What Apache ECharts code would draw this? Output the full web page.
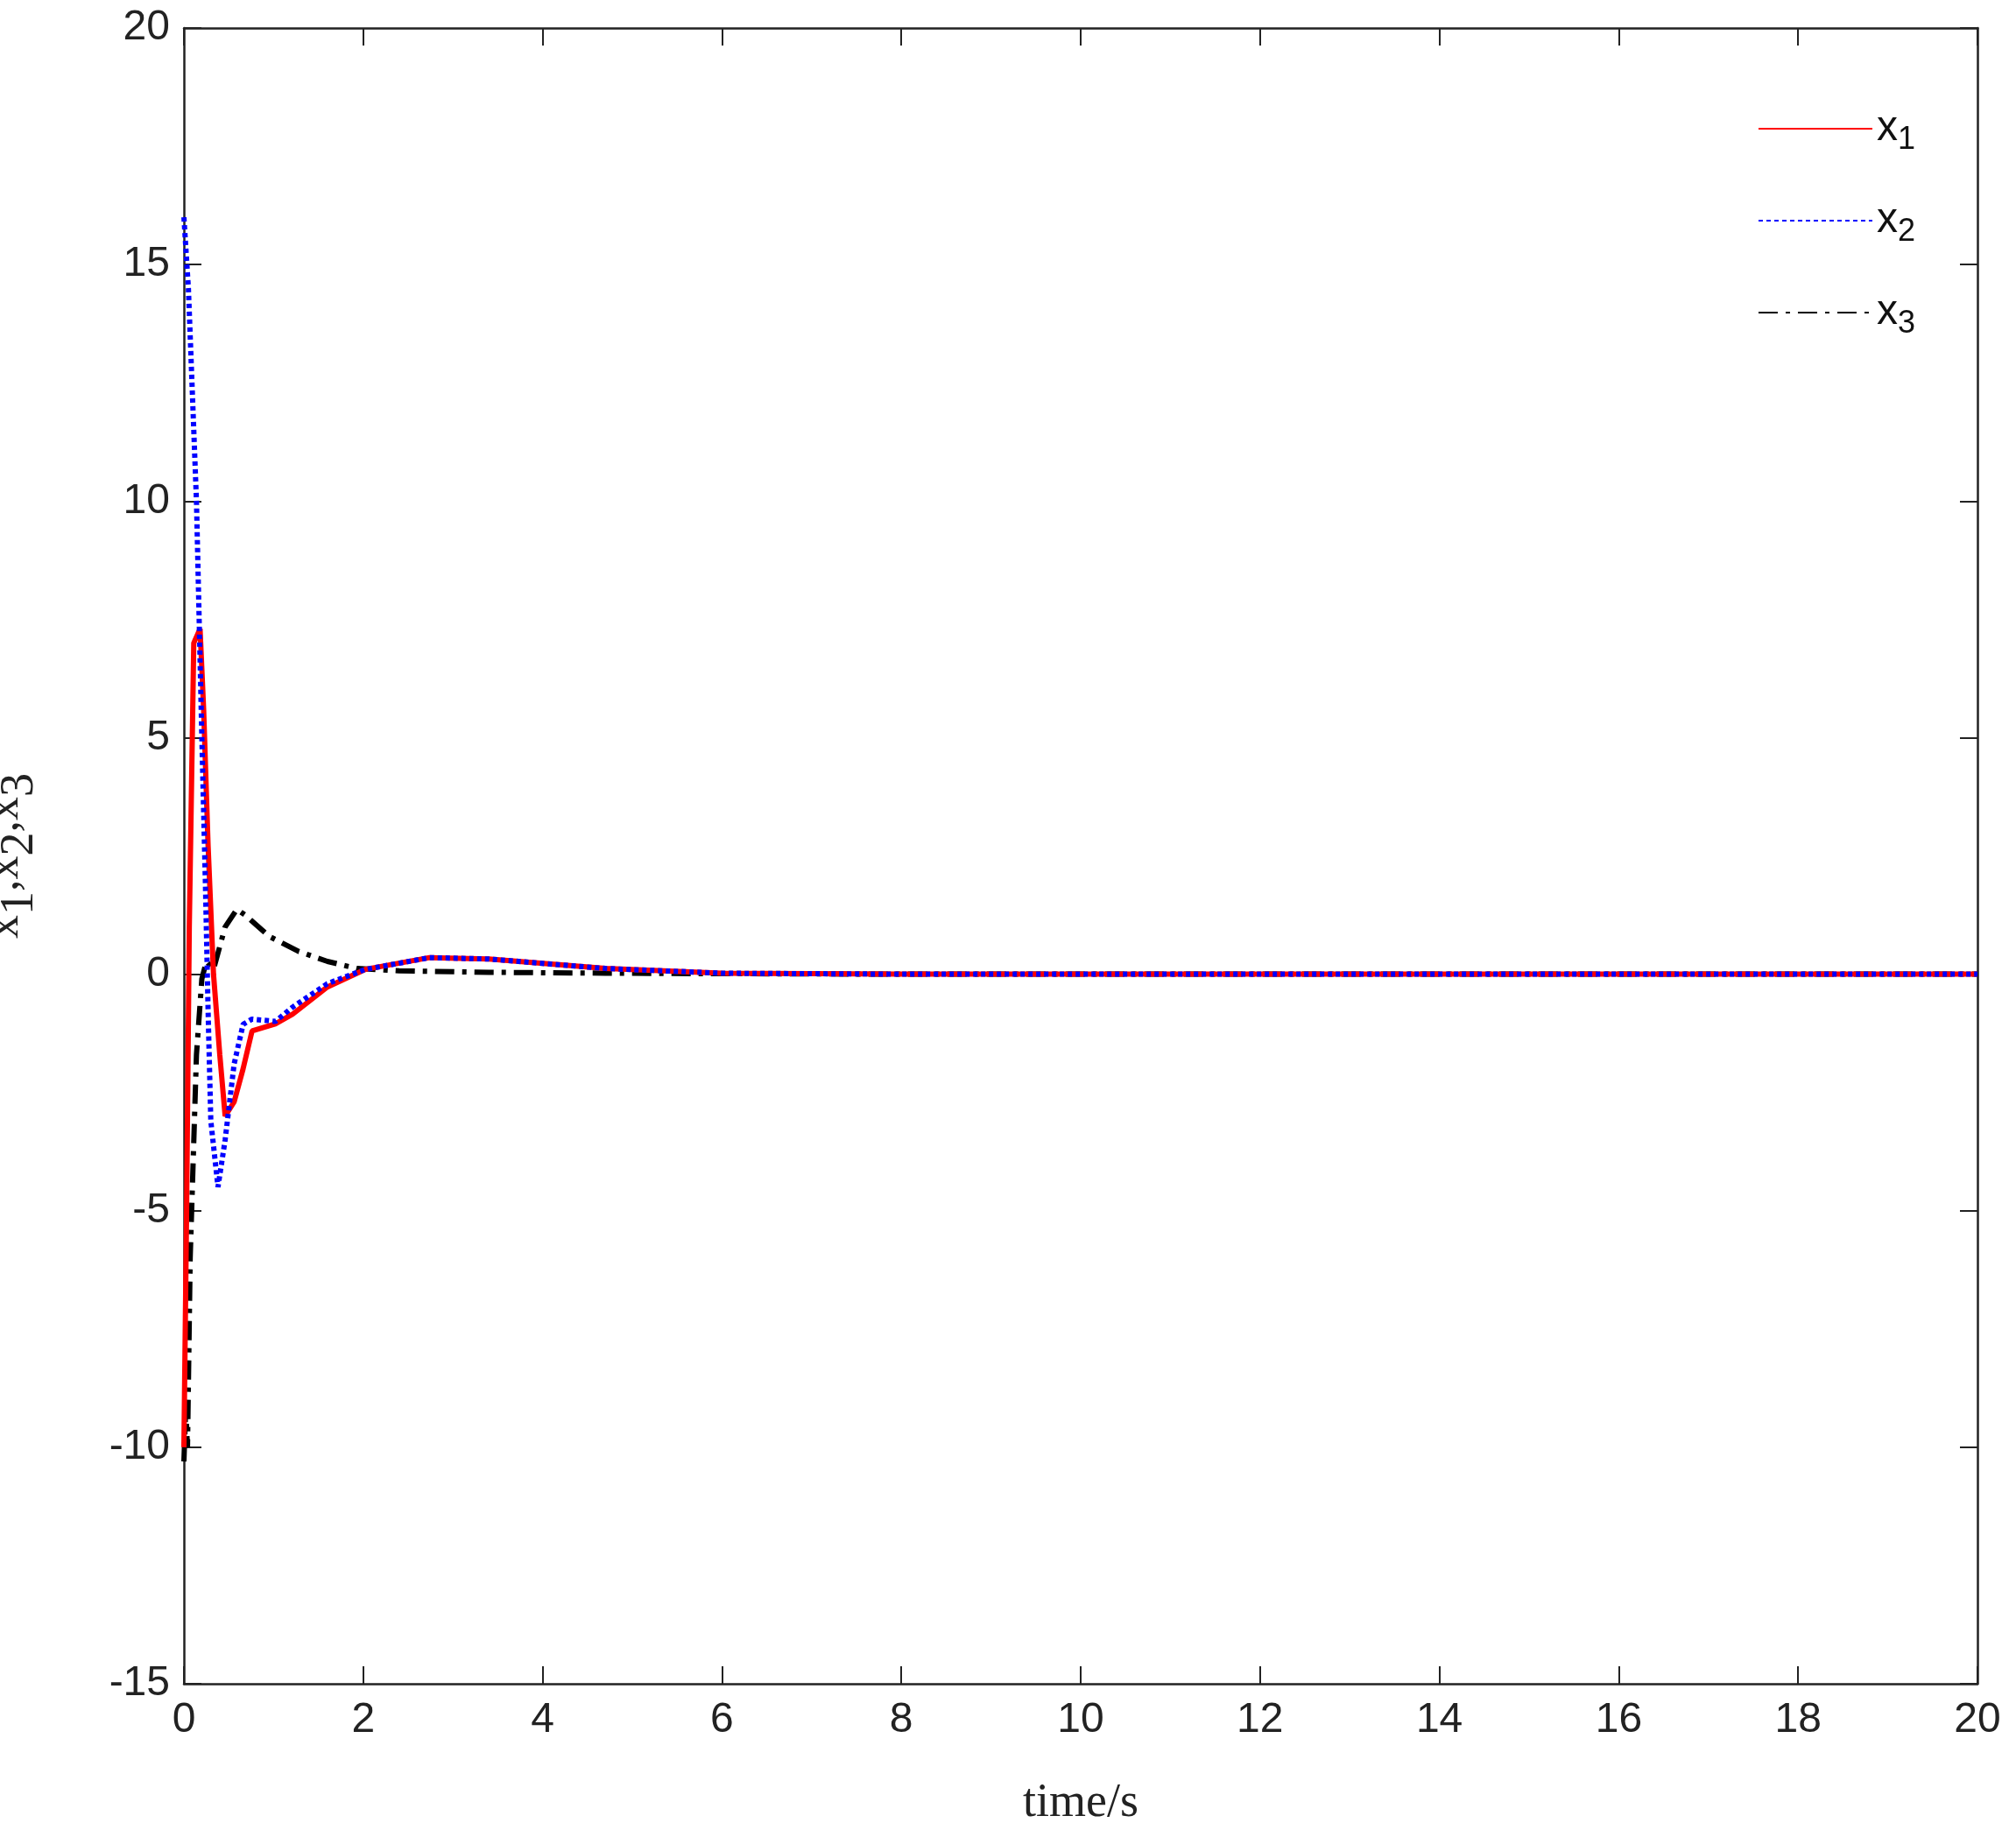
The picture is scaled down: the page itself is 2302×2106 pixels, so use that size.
<!DOCTYPE html>
<html><head><meta charset="utf-8">
<script src="https://cdn.jsdelivr.net/npm/echarts@6/dist/echarts.min.js"></script>
<style>html,body{margin:0;background:#fff}#c{width:2302px;height:2106px}</style>
</head><body><div id="c"></div>
<script>
var xTicks = [0, 2, 4, 6, 8, 10, 12, 14, 16, 18, 20];
var yTicks = [-15, -10, -5, 0, 5, 10, 15, 20];

var t1 = [0, 0.03, 0.06, 0.11, 0.18, 0.22, 0.27, 0.33, 0.4, 0.46, 0.56, 0.66, 0.76, 1.02, 1.21, 1.6, 2.02, 2.74, 3.4, 4.7, 6, 8, 20];
var x1 = [-10, -5, 1, 7, 7.3, 5.6, 2.7, 0, -1.7, -3, -2.7, -2, -1.2, -1.05, -0.85, -0.27, 0.1, 0.35, 0.32, 0.12, 0.02, 0, 0];

var t2 = [0, 0.05, 0.14, 0.2, 0.24, 0.27, 0.3, 0.38, 0.46, 0.56, 0.66, 0.76, 1.02, 1.21, 1.6, 2.02, 2.74, 3.4, 4.7, 6, 8, 20];
var x2 = [16, 14.5, 10, 5, 1.9, -0.8, -3.1, -4.5, -3.5, -1.9, -1.06, -0.95, -1.0, -0.7, -0.2, 0.1, 0.35, 0.32, 0.12, 0.02, 0, 0];

var t3 = [0, 0.02, 0.04, 0.07, 0.14, 0.2, 0.25, 0.33, 0.46, 0.59, 0.69, 0.95, 1.28, 1.6, 1.93, 2.4, 3.4, 4.7, 6, 8, 20];
var x3 = [-10.3, -9.2, -10, -6, -1.7, -0.1, 0.27, 0.1, 1.0, 1.37, 1.24, 0.8, 0.48, 0.27, 0.12, 0.07, 0.04, 0.02, 0.01, 0, 0];

function pairs(t, v) { return t.map(function (d, i) { return [d, v[i]]; }); }

var chart = echarts.init(document.getElementById('c'));
var tickFont = { fontFamily: 'Arial, Liberation Sans', fontSize: 48, color: '#222' };
var axisLineStyle = { onZero: false, lineStyle: { color: '#222', width: 2.5 } };
var subRich = {
  n: { fontFamily: 'Arial, Liberation Sans', fontSize: 48, color: '#111' },
  s: { fontFamily: 'Arial, Liberation Sans', fontSize: 36, color: '#111', padding: [26, 0, 0, 0] }
};
function xAx(pos, show) {
  return {
    type: 'value', position: pos, min: 0, max: 20, interval: 2,
    axisLine: axisLineStyle, axisTick: { inside: true, length: 20, lineStyle: { color: '#222', width: 2 } },
    axisLabel: Object.assign({ show: show, margin: 18 }, tickFont), splitLine: { show: false }
  };
}
function yAx(pos, show) {
  return {
    type: 'value', position: pos, min: -15, max: 20, interval: 5,
    axisLine: axisLineStyle, axisTick: { inside: true, length: 20, lineStyle: { color: '#222', width: 2 } },
    axisLabel: Object.assign({ show: show, margin: 16 }, tickFont), splitLine: { show: false }
  };
}
var xMain = xAx('bottom', true);
xMain.name = 'time/s'; xMain.nameLocation = 'middle'; xMain.nameGap = 110;
xMain.nameTextStyle = { fontFamily: 'Times New Roman, Liberation Serif', fontSize: 54, color: '#222' };
var yMain = yAx('left', true);
yMain.name = '{a|x}{b|1}{a|,x}{b|2}{a|,x}{b|3}'; yMain.nameLocation = 'middle'; yMain.nameGap = 160;
yMain.nameTextStyle = { rich: {
  a: { fontFamily: 'Times New Roman, Liberation Serif', fontSize: 54, color: '#222' },
  b: { fontFamily: 'Times New Roman, Liberation Serif', fontSize: 54, color: '#222', padding: [34, 0, 0, 0] }
} };

chart.setOption({
  backgroundColor: '#fff',
  animation: false,
  grid: { left: 210, right: 44, top: 32, bottom: 183, outerBoundsMode: 'none', containLabel: false },
  legend: {
    orient: 'vertical', right: 110, top: 118, itemWidth: 130, itemHeight: 20, itemGap: 50,
    data: ['x1', 'x2', 'x3'],
    itemStyle: { opacity: 0 },
    formatter: function (n) { return '{n|x}{s|' + n.slice(1) + '}'; },
    textStyle: { rich: subRich }
  },
  xAxis: [xMain, xAx('top', false)],
  yAxis: [yMain, yAx('right', false)],
  series: [
    { name: 'x1', type: 'line', data: pairs(t1, x1), showSymbol: false, symbol: 'none', z: 3,
      lineStyle: { color: '#ff0000', width: 6 }, itemStyle: { color: '#ff0000' } },
    { name: 'x2', type: 'line', data: pairs(t2, x2), showSymbol: false, symbol: 'none', z: 4,
      lineStyle: { color: '#0000ff', width: 6, type: [5, 4] }, itemStyle: { color: '#0000ff' } },
    { name: 'x3', type: 'line', data: pairs(t3, x3), showSymbol: false, symbol: 'none', z: 2,
      lineStyle: { color: '#000', width: 6, type: [22, 9, 5, 9] }, itemStyle: { color: '#000' } }
  ]
});
</script></body></html>
